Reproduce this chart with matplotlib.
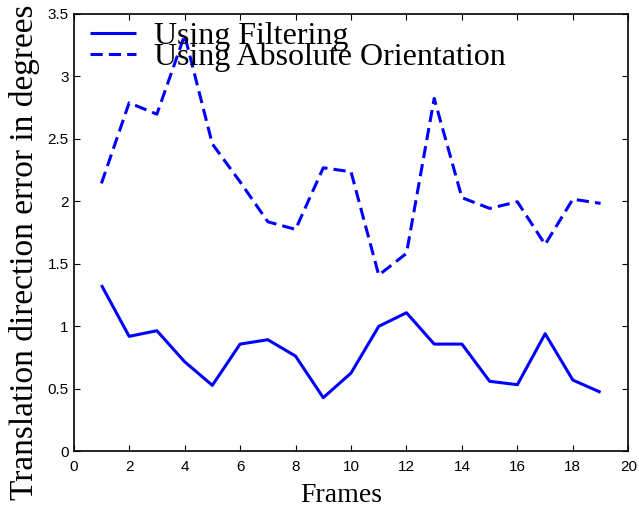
import matplotlib
matplotlib.use("Agg")
import matplotlib.pyplot as plt

# Frame indices and translation direction error (degrees) for each method
frames = list(range(1, 20))
filtering_err = [1.33, 0.92, 0.965, 0.717, 0.528, 0.858, 0.893, 0.762, 0.429, 0.626,
                 1.00, 1.109, 0.858, 0.858, 0.56, 0.533, 0.941, 0.57, 0.472]
absolute_err = [2.144, 2.789, 2.698, 3.33, 2.46, 2.157, 1.837, 1.776, 2.269, 2.237,
                1.41, 1.584, 2.824, 2.03, 1.944, 1.997, 1.655, 2.018, 1.984]

xticks = list(range(0, 21, 2))
yticks = [0, 0.5, 1, 1.5, 2, 2.5, 3, 3.5]
ytick_labels = ["0", "0.5", "1", "1.5", "2", "2.5", "3", "3.5"]

series_labels = ["Using Filtering", "Using Absolute Orientation"]

fig = plt.figure(figsize=(6.39, 5.16), dpi=100)
ax = fig.add_axes([0.1153, 0.1254, 0.868, 0.8475])

ax.plot(frames, filtering_err, color="#0000ff", lw=2.2, solid_capstyle="butt",
        label=series_labels[0])
ax.plot(frames, absolute_err, color="#0000ff", lw=2.2, linestyle=(0, (4, 2)),
        label=series_labels[1])

ax.set_xlim(0, 20)
ax.set_ylim(0, 3.5)
ax.set_xticks(xticks)
ax.set_xticklabels([str(t) for t in xticks], family="Liberation Sans", fontsize=11)
ax.set_yticks(yticks)
ax.set_yticklabels(ytick_labels, family="Liberation Sans", fontsize=11)

ax.tick_params(axis="both", direction="in", length=4, width=0.8,
               top=True, right=True)
ax.tick_params(axis="x", pad=6)
ax.tick_params(axis="y", pad=3.5)
for sp in ax.spines.values():
    sp.set_linewidth(1.2)

ax.set_xlabel("Frames", family="Liberation Serif", fontsize=20)
ax.set_ylabel("Translation direction error in degrees", family="Liberation Serif",
              fontsize=24)
ax.xaxis.set_label_coords(0.482, -0.0725)
ax.yaxis.set_label_coords(-0.061, 0.456)

ax.legend(loc="upper left", bbox_to_anchor=(0, 1.018), frameon=False,
          prop={"family": "Liberation Serif", "size": 23},
          handlelength=1.45, handletextpad=0.55, borderaxespad=0.1, borderpad=0.4,
          labelspacing=-0.28)

fig.savefig("out.png", dpi=100)
